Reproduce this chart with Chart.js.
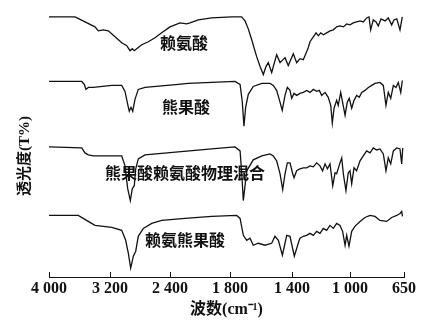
<!DOCTYPE html>
<html lang="zh">
<head>
<meta charset="UTF-8" />
<title>红外光谱</title>
<script src="https://cdn.jsdelivr.net/npm/chart.js"></script>
<style>
  body { margin: 0; padding: 0; background: #fff; }
  .wrap { width: 434px; height: 321px; position: relative; }
</style>
</head>
<body>
<div class="wrap"><canvas id="ftir"></canvas></div>
<script>
// axis: wavenumber ticks are not evenly spaced in value, so map them piecewise
const tickWaves = [4000, 3200, 2400, 1800, 1400, 1000, 650];
const tickLabels = ['4 000', '3 200', '2 400', '1 800', '1 400', '1 000', '650'];
const tickPos = [0, 61, 121, 181, 243, 301, 355];

const seriesNames = ['赖氨酸', '熊果酸', '熊果酸赖氨酸物理混合', '赖氨熊果酸'];

// 赖氨酸
const lysWave = [4000,3659,3528,3397,3353,3288,3222,3133,3044,2977,2933,2903,2876,2844,2777,2689,2600,2511,2400,2300,2233,2200,2117,1983,1789,1725,1703,1682,1660,1628,1606,1585,1568,1553,1531,1499,1477,1445,1424,1391,1368,1345,1322,1288,1276,1253,1234,1218,1202,1184,1161,1138,1115,1092,1069,1046,1023,1000,979,957,935,914,892,877,866,849,831,817,799,773,752,730,715,697,676,661];
const lysT = [262,262,257,252,248,249,248,242,236,233,228,230,228,230,234,237,241,246,252,256,255,256,259,261,262,262,258,250,239,222,212,204,212,216,206,224,216,221,213,225,216,220,219,231,237,242,246,243,246,244,246,248,249,252,253,252,255,254,256,257,258,257,261,262,249,259,257,253,260,258,261,254,259,260,249,262];

// 熊果酸
const uaWave = [4000,3571,3537,3515,3485,3419,3177,3044,3000,2964,2943,2920,2897,2867,2823,2733,2317,2217,1983,1768,1735,1721,1710,1699,1682,1650,1595,1542,1521,1499,1477,1463,1445,1430,1413,1402,1386,1368,1345,1322,1299,1276,1253,1230,1212,1195,1172,1150,1133,1122,1110,1092,1081,1064,1051,1034,1019,1005,989,974,957,940,924,903,881,859,838,806,784,767,752,736,719,702,687,671,661];
const uaT = [197,197,194,189,191,191,193,193,187,174,167,171,167,179,189,191,194,195,196,197,194,177,152,171,184,192,195,195,193,188,176,168,183,191,188,180,185,183,185,186,188,186,189,187,188,183,186,181,173,155,170,178,173,186,176,163,176,180,170,178,183,181,186,188,191,193,195,196,193,173,186,180,193,191,196,186,198];

// 物理混合
const mixWave = [4000,3571,3528,3485,3419,3044,3000,2964,2929,2903,2876,2857,2823,2733,2317,1983,1768,1735,1725,1714,1692,1650,1595,1542,1521,1499,1477,1460,1445,1430,1413,1395,1386,1368,1345,1322,1299,1276,1253,1230,1207,1189,1172,1156,1138,1119,1103,1092,1069,1057,1046,1028,1012,1000,989,974,957,935,914,892,870,849,827,806,784,767,752,736,719,697,676,665,658];
const mixT = [131,130,125,123,122,122,112,89,77,89,92,109,119,123,126,129,131,127,106,77,107,118,122,124,122,117,104,88,104,115,115,104,100,107,109,110,110,112,111,115,112,107,114,109,114,92,105,104,115,120,104,87,105,107,94,110,107,117,122,127,125,130,128,129,124,107,120,114,127,130,129,114,130];

// 赖氨熊果酸
const cpdWave = [4000,3616,3485,3397,3177,3044,2991,2956,2924,2889,2857,2823,2756,2644,2511,2250,1983,1757,1735,1714,1692,1671,1650,1617,1574,1531,1510,1488,1462,1434,1413,1384,1357,1345,1322,1299,1276,1253,1230,1207,1184,1161,1138,1115,1092,1069,1051,1034,1023,1007,989,968,935,903,870,838,806,762,730,697,676,665,660];
const cpdT = [62,62,56,52,50,47,37,24,9,21,26,41,49,54,57,59,61,62,59,42,37,39,32,34,32,34,41,37,22,42,41,21,34,39,41,42,44,42,46,44,49,47,52,49,54,52,46,32,42,31,46,51,56,60,62,61,57,56,60,62,64,66,61];

function waveToPos(w) {
  for (let i = 0; i < tickWaves.length - 1; i++) {
    const a = tickWaves[i], b = tickWaves[i + 1];
    if (w <= a && w >= b) {
      return tickPos[i] + (a - w) / (a - b) * (tickPos[i + 1] - tickPos[i]);
    }
  }
  return w > tickWaves[0] ? tickPos[0] : tickPos[tickPos.length - 1];
}

function toPoints(waves, vals) {
  return waves.map((w, i) => ({ x: waveToPos(w), y: vals[i] }));
}

const allSeries = [
  toPoints(lysWave, lysT),
  toPoints(uaWave, uaT),
  toPoints(mixWave, mixT),
  toPoints(cpdWave, cpdT)
];

const cjkFont = "'Liberation Serif', 'Noto Sans CJK SC', serif";

// where the names sit, in wavenumber / value units
const nameAnchors = [
  { w: 2260, y: 234 },
  { w: 2240, y: 169 },
  { w: 2250, y: 103 },
  { w: 2250, y: 35 }
];

const extras = {
  id: 'extras',
  afterDraw(chart) {
    const { ctx, scales: { x, y }, chartArea } = chart;
    ctx.save();
    // inward tick marks
    ctx.strokeStyle = '#111';
    ctx.lineWidth = 1;
    tickPos.forEach(v => {
      const px = Math.round(x.getPixelForValue(v)) + 0.5;
      ctx.beginPath();
      ctx.moveTo(px, chartArea.bottom);
      ctx.lineTo(px, chartArea.bottom - 5);
      ctx.stroke();
    });
    // series names
    ctx.fillStyle = '#111';
    ctx.font = "bold 16px " + cjkFont;
    ctx.textAlign = 'center';
    ctx.textBaseline = 'middle';
    seriesNames.forEach((name, i) => {
      const a = nameAnchors[i];
      ctx.fillText(name, x.getPixelForValue(waveToPos(a.w)), y.getPixelForValue(a.y));
    });
    // y axis title
    ctx.translate(25, 156);
    ctx.rotate(-Math.PI / 2);
    ctx.font = "bold 15px " + cjkFont;
    ctx.fillText('透光度(T%)', 0, 0);
    ctx.restore();
  }
};

new Chart(document.getElementById('ftir'), {
  type: 'line',
  data: {
    datasets: allSeries.map((pts, i) => ({
      label: seriesNames[i],
      data: pts,
      borderColor: '#111',
      borderWidth: 1.3,
      pointRadius: 0,
      tension: 0,
      fill: false
    }))
  },
  options: {
    responsive: true,
    maintainAspectRatio: false,
    animation: false,
    layout: { padding: { left: 49, right: 30, top: 10, bottom: 0 } },
    plugins: { legend: { display: false }, tooltip: { enabled: false } },
    scales: {
      x: {
        type: 'linear',
        min: 0,
        max: 355,
        grid: { display: false, drawTicks: false },
        border: { display: true, color: '#111', width: 1 },
        afterBuildTicks: (scale) => { scale.ticks = tickPos.map(v => ({ value: v })); },
        ticks: {
          padding: 2,
          color: '#111',
          maxRotation: 0,
          autoSkip: false,
          font: { family: cjkFont, size: 16, weight: 'bold' },
          callback: (v) => {
            const i = tickPos.indexOf(v);
            return i >= 0 ? tickLabels[i] : '';
          }
        },
        title: {
          display: true,
          text: '波数(cm⁻¹)',
          color: '#111',
          padding: { top: 0, bottom: 1.6 },
          font: { family: cjkFont, size: 16, weight: 'bold' }
        }
      },
      y: {
        display: false,
        min: 0,
        max: 269
      }
    }
  },
  plugins: [extras]
});
</script>
</body>
</html>
